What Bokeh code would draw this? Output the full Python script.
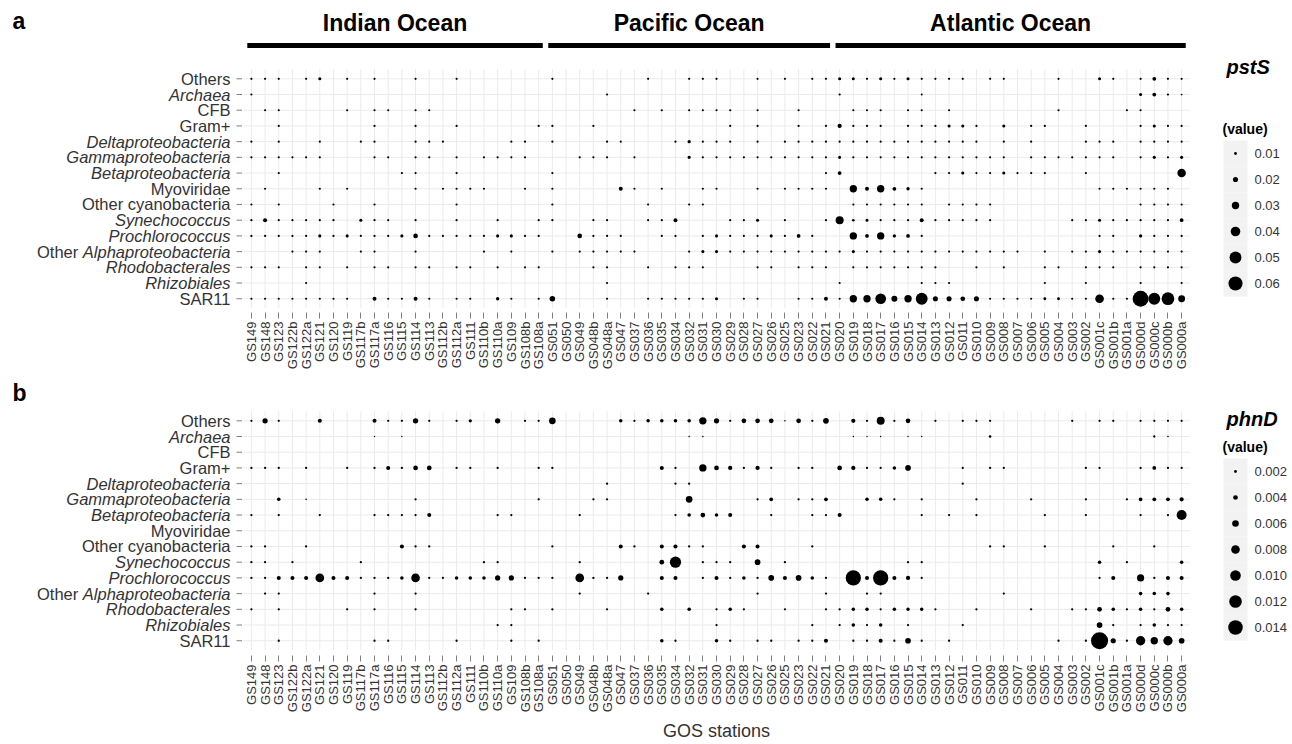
import numpy as np
from bokeh.plotting import figure
from bokeh.models import Range1d, FixedTicker, Title
from bokeh.layouts import column
from bokeh.embed import file_html
from bokeh.resources import INLINE
from bokeh.core.properties import value

# ---------------- data ----------------
stations = ["GS149", "GS148", "GS123", "GS122b", "GS122a", "GS121", "GS120", "GS119", "GS117b", "GS117a",
            "GS116", "GS115", "GS114", "GS113", "GS112b", "GS112a", "GS111", "GS110b", "GS110a", "GS109",
            "GS108b", "GS108a", "GS051", "GS050", "GS049", "GS048b", "GS048a", "GS047", "GS037", "GS036",
            "GS035", "GS034", "GS032", "GS031", "GS030", "GS029", "GS028", "GS027", "GS026", "GS025",
            "GS023", "GS022", "GS021", "GS020", "GS019", "GS018", "GS017", "GS016", "GS015", "GS014",
            "GS013", "GS012", "GS011", "GS010", "GS009", "GS008", "GS007", "GS006", "GS005", "GS004",
            "GS003", "GS002", "GS001c", "GS001b", "GS001a", "GS000d", "GS000c", "GS000b", "GS000a"]
ocean_names = ["Indian Ocean", "Pacific Ocean", "Atlantic Ocean"]
ocean_first = ["GS149", "GS051", "GS020"]
ocean_last = ["GS108a", "GS021", "GS000a"]

taxa = ["Others", "Archaea", "CFB", "Gram+", "Deltaproteobacteria", "Gammaproteobacteria",
        "Betaproteobacteria", "Myoviridae", "Other cyanobacteria", "Synechococcus", "Prochlorococcus",
        "Other Alphaproteobacteria", "Rhodobacterales", "Rhizobiales", "SAR11"]
italic_taxa = ["Archaea", "Deltaproteobacteria", "Gammaproteobacteria", "Betaproteobacteria",
               "Synechococcus", "Prochlorococcus", "Rhodobacterales", "Rhizobiales"]

# panel a : pstS
pstS_Others = [.007,.007,.007,0,.007,.011,0,.007,0,.007, 0,0,.007,0,0,.007,0,0,0,0, 0,0,.007,0,0,0,0,0,0,.007,
               0,0,.007,.007,.007,0,0,.007,0,.007, 0,.007,.007,.011,.011,.007,.011,.007,.011,.007,
               .007,.007,.007,0,.007,.007,0,0,0,.007, 0,0,.011,.007,0,.007,.014,.007,.007]
pstS_Archaea = [.007,0,0,0,0,0,0,0,0,0, 0,0,0,0,0,0,0,0,0,0, 0,0,0,0,0,0,.007,0,0,0,
                0,0,0,0,0,0,0,0,0,0, 0,0,0,.007,0,0,0,0,0,.006,
                0,0,0,0,0,0,0,0,0,0, 0,0,0,0,0,.011,.014,.007,.005]
pstS_CFB = [0,.007,.007,0,0,0,0,.007,0,.007, .007,0,.007,.007,0,0,0,0,0,0, 0,0,0,0,0,0,0,0,.007,0,
            .007,0,.007,.007,.007,.007,0,.007,0,0, .007,0,0,0,.007,.007,.007,0,.007,.007,
            0,.007,0,0,0,0,0,0,0,.007, 0,0,0,0,.007,.007,0,0,0]
pstS_Gram = [0,0,.007,0,0,0,0,0,0,.007, 0,0,.007,0,0,.007,0,0,0,0, 0,.007,.007,0,0,.007,0,0,0,0,
             0,0,0,0,0,.007,0,.007,0,0, .007,0,.007,.016,.007,.007,.007,0,.007,.007,
             .007,.011,.011,.007,0,.011,0,.007,.007,0, 0,.007,0,0,0,.007,.011,.007,.007]
pstS_Delta = [.007,0,.007,0,0,.007,0,0,.007,.007, 0,0,.007,.007,.007,0,0,0,0,.007, .007,0,.007,0,0,0,.007,.007,0,0,
              0,.007,.012,.007,.007,.007,0,.007,0,.007, .007,.007,.007,.007,.007,.007,.007,.007,.007,.007,
              .007,.007,.007,.007,0,.007,0,.007,0,0, 0,.007,.007,.007,0,.007,.007,.007,.007]
pstS_Gamma = [.007,.007,.007,.007,.007,.007,0,0,0,.007, .007,0,.007,.007,0,.007,0,.007,.007,.007, .007,0,0,0,.007,.007,.007,0,.007,0,
              0,0,.012,.007,.007,.007,.007,.007,.007,.007, .007,.007,.007,.011,.007,.007,.007,.007,.007,.007,
              .007,.007,.007,.007,.007,.007,0,.007,.007,.007, .007,.007,.007,.007,0,.007,.011,.007,.011]
pstS_Beta = [0,0,.007,0,0,0,0,0,0,0, 0,.007,.007,0,0,.007,0,0,0,0, 0,0,.007,0,0,0,0,0,0,0,
             0,0,0,0,0,0,0,0,0,0, 0,0,.007,.014,0,0,0,0,0,0,
             .007,.007,.011,.007,.007,.011,.007,.007,.007,0, 0,.007,0,0,0,0,0,0,.035]
pstS_Myo = [0,.007,0,0,0,.007,0,.007,0,0, 0,0,.007,0,.007,.007,.007,.007,0,0, .007,0,.007,0,0,0,0,.015,.007,0,
            .007,0,0,.007,.007,0,0,.007,0,.007, .007,.007,.007,0,.030,.015,.030,.014,.012,.007,
            0,0,0,0,0,0,0,0,0,0, 0,0,.007,.007,.007,.007,.007,.007,0]
pstS_OtherCyano = [.007,0,.007,0,0,0,.007,0,0,.007, 0,0,0,0,0,.007,0,0,0,0, 0,0,.007,0,0,0,0,0,0,.007,
                   0,0,.007,.007,0,0,0,0,0,0, 0,0,0,0,.007,.007,.007,.007,.007,.007,
                   0,.007,.007,.007,.007,0,0,0,0,0, 0,0,0,0,0,.007,.007,.007,.007]
pstS_Syn = [.007,.015,.007,.007,.007,.007,.007,0,.011,.007, .007,0,.007,0,0,.007,0,0,.007,0, 0,.007,.007,0,0,.007,.007,0,0,.007,
            .007,.015,0,0,0,.007,.007,.011,0,.007, 0,0,.007,.033,.009,.011,.007,.007,.007,.015,
            .007,.007,.007,.007,.007,0,0,0,0,0, .007,.007,.011,.007,.007,.007,.007,.007,.014]
pstS_Proch = [.007,.007,.007,.007,.007,.011,.007,.011,.007,.007, .007,.011,.018,.007,.007,.007,.007,.007,.011,.011,
              .007,.007,0,0,.018,.007,.007,.007,0,0, .007,.007,0,.007,.011,.007,.007,.007,.011,.007,
              .014,.007,0,0,.030,.014,.030,.012,.014,.007, 0,0,0,0,0,0,0,0,0,0, 0,0,.007,.007,0,.012,.007,.007,.007]
pstS_OtherAlpha = [0,0,0,.007,.007,.007,0,0,.007,.007, 0,0,.007,0,0,0,0,.007,0,.007, 0,0,.007,0,.007,.007,.007,.007,.007,0,
                   0,0,.007,.011,.011,.007,.007,.007,.007,.007, .007,.007,.007,.007,.011,.007,.007,.007,.007,.007,
                   .007,.007,.007,.007,.007,.007,.007,0,.007,0, .007,.007,.011,.007,.007,.007,.007,.007,.007]
pstS_Rhodo = [.007,.007,.007,0,.007,.007,0,.007,0,.007, .007,0,.007,.007,0,.007,.007,0,.007,0, .007,.007,0,0,0,.007,.007,0,0,.007,
              0,.007,.007,.007,0,0,0,.007,.007,0, .007,.007,.007,0,.007,.007,.007,.007,.007,.007,
              .007,0,0,.007,0,.007,0,0,.007,.007, 0,.007,.007,.007,0,.007,.007,.007,.007]
pstS_Rhizo = [0,0,0,0,.007,0,0,0,0,0, 0,0,0,0,0,0,0,0,0,0, 0,0,0,0,0,0,.007,0,0,0,
              0,0,0,0,0,0,0,0,0,0, 0,0,0,.007,0,0,0,0,0,.007,
              .007,.007,0,0,0,0,0,0,.007,0, 0,.007,0,0,0,.007,0,0,.007]
pstS_SAR11 = [.007,.007,.007,.007,.007,.007,.007,.007,0,.015, .007,.007,.015,.007,0,.007,.007,0,.012,.007,
              0,.007,.022,0,0,0,.007,0,0,.007, .007,.007,.007,.007,.011,0,.007,.007,0,0,
              .007,.007,.015,.007,.030,.030,.045,.024,.030,.050, .020,.020,.018,.020,.007,.007,.007,.007,.010,.010,
              .007,.007,.036,.007,.007,.068,.050,.054,.028]

# panel b : phnD
phnD_Others = [.0015,.0046,.0015,0,0,.0033,0,0,0,.0033, .0015,.0015,.0046,.0015,0,.0015,.0025,0,.0046,0,
               .0015,.0015,.006,0,0,0,0,.0028,.0015,.0028, .0028,.0028,.0028,.0067,.0045,.0015,.004,.004,.004,.0008,
               .004,.0015,.005,0,.0035,.0015,.0073,.0015,.004,0, .0015,0,.0015,.0015,.0015,0,0,0,0,0,
               .0015,0,.0015,.0015,0,.0015,.0015,.0015,.0015]
phnD_Archaea = [0,0,0,0,0,0,0,0,0,.0006, 0,.0006,0,0,0,0,0,0,0,0, 0,0,0,0,0,0,0,0,0,0,
                0,0,.0008,.0008,0,0,0,0,0,0, 0,0,0,0,.0006,.0006,.0006,0,.0006,.0006,
                0,0,0,0,.0018,0,0,0,0,0, 0,0,0,0,0,0,.0015,.0008,0]
phnD_CFB = [0,0,0,0,0,0,0,0,0,0, 0,0,0,0,0,0,0,0,0,0, 0,0,0,0,0,0,0,0,0,0,
            0,0,0,0,0,0,0,0,0,0, 0,0,0,0,0,0,0,0,0,0, 0,0,0,0,0,0,0,0,0,0, 0,0,0,0,0,0,0,0,0]
phnD_Gram = [.0015,.0015,.0015,0,.0015,0,0,.0015,0,.0015, .0033,.0015,.004,.004,0,.0015,.0015,0,.0015,0,
             0,.0015,.0015,0,0,0,0,0,0,0, .0033,.0015,0,.0067,.004,.0035,.0015,.0035,.0015,0,
             .0015,.0015,0,.004,.0035,.0015,.0015,.0028,.005,0, 0,0,.0015,0,.0015,.0015,0,0,0,0,
             0,.0015,.0015,0,0,.0015,.003,.0015,.0015]
phnD_Delta = [0,0,0,0,0,0,0,0,0,0, 0,0,0,0,0,0,0,0,0,0, 0,0,0,0,0,0,.0015,0,0,0,
              0,.0015,.0015,0,0,0,0,0,0,0, 0,0,0,0,0,0,0,0,0,0, 0,0,.0015,0,0,0,0,0,0,0, 0,0,0,0,0,0,0,0,0]
phnD_Gamma = [0,0,.0028,0,.0008,0,0,0,0,0, 0,0,.0015,0,0,0,0,0,0,0, 0,.0015,0,0,0,.0015,.0015,0,0,0,
              0,0,.006,0,0,0,0,.0015,.003,0, .0015,.0015,.003,0,0,.0028,.0028,.0015,0,.0015,
              0,0,0,.0015,0,0,0,.0015,0,0, 0,.0015,0,0,.0015,.003,.003,.003,.0035]
phnD_Beta = [.0015,0,.0015,0,0,.0015,0,0,0,.0015, .0015,.0015,.0015,.0033,0,0,0,0,.0015,.0015,
             0,0,0,0,.0015,0,0,0,0,0, 0,.0015,.0028,.004,.0028,.0033,0,0,.0015,0,
             0,.0015,.0015,.0033,0,0,0,0,0,.0015, 0,.0015,0,.0015,0,0,0,0,.0015,0,
             0,.0015,0,0,0,.0015,0,.0015,.0094]
phnD_Myo = [0,0,0,0,0,0,0,0,0,0, 0,0,0,0,0,0,0,0,0,0, 0,0,0,0,0,0,0,0,0,0,
            0,0,0,0,0,0,0,0,0,0, 0,0,0,0,0,0,0,0,0,0, 0,0,0,0,0,0,0,0,0,0, 0,0,0,0,0,0,0,0,0]
phnD_OtherCyano = [.0015,.0015,0,0,.0015,0,0,0,0,0, 0,.0033,.0015,.0015,0,0,0,0,0,0, 0,0,.0015,0,0,0,0,.0033,.0015,0,
                   .0033,.0033,.0015,.0015,0,0,.0033,.0033,0,0, 0,.0015,0,0,0,0,0,0,0,0,
                   0,0,0,0,.0015,.0015,0,0,.0015,0, 0,0,0,.0015,0,0,.0015,0,0]
phnD_Syn = [.0015,.0015,0,.0015,0,0,0,0,.0015,0, 0,0,0,0,0,0,0,.0015,.0015,0, 0,0,0,0,.0015,0,0,0,0,0,
            .004,.0107,0,.0015,.0015,.0015,0,.005,0,.0015, 0,0,0,0,0,0,0,0,.0015,.0015,
            0,0,0,0,0,0,0,0,0,0, 0,0,.0028,0,.0015,0,0,0,.0028]
phnD_Proch = [.0015,.0015,.0033,.0033,.0033,.008,.0033,.0033,.0015,.0015, .0015,.0028,.008,.0015,.0015,.0028,.0028,.0028,.0045,.0045,
              .0015,.0015,.0015,0,.008,.0015,.0015,.0045,0,0, .0033,.0033,0,.0015,.0033,.0015,.0028,.0015,.005,.0033,
              .005,.0028,.0015,0,.0148,.0033,.0148,.0033,.0035,.0015, 0,0,0,0,0,0,0,0,0,0,
              0,0,.0015,.0033,0,.0065,.0015,.0033,.0033]
phnD_OtherAlpha = [0,.0015,.0015,0,0,0,0,0,0,.0015, 0,0,.0015,0,0,0,0,0,0,0, 0,0,0,0,.0015,0,0,0,0,.0015,
                   0,0,0,0,0,0,0,.0015,0,0, 0,0,.0015,0,0,.0015,.0015,0,0,0,
                   0,0,0,0,0,.0015,0,0,0,0, 0,0,0,0,0,.0028,.0028,.0028,0]
phnD_Rhodo = [.0015,0,.0015,0,0,0,0,.0015,0,.0015, 0,0,.0015,0,0,0,0,0,0,.0015, .0015,0,.0015,0,0,0,.0015,0,0,0,
              .0028,0,.0028,0,.0015,.0028,.0015,0,0,.0015, 0,0,.0015,.0015,.0028,.0028,.0015,.0028,.0028,.0028,
              .0015,0,0,.0015,0,0,0,.0015,0,0, .0015,.0015,.004,.0028,.0015,.0028,.0015,.004,.0028]
phnD_Rhizo = [0,0,0,0,0,0,0,0,0,0, 0,0,0,0,0,0,0,0,.0015,.0015, 0,0,0,0,0,0,0,0,0,0,
              0,0,0,0,.0015,0,0,0,0,0, 0,.0015,0,.0015,.0028,.0015,.0028,0,.0015,0,
              0,0,.0015,0,0,0,0,0,0,0, 0,0,.005,.0015,0,.0015,.0028,.0015,.0015]
phnD_SAR11 = [0,0,.0015,0,0,0,0,0,0,.0015, .0015,0,0,0,0,.0015,0,0,0,.0015, 0,.0015,0,0,0,0,0,0,0,0,
              .0028,.0015,0,0,.0028,.0015,0,.0015,.0015,0, .0015,.0015,.0033,0,.0015,.0015,.0033,.0015,.005,.0015,
              0,.0015,0,0,0,0,0,0,0,.0015, 0,.0015,.0166,.0045,.0015,.0087,.0067,.0087,.005]

pstS_rows = [pstS_Others, pstS_Archaea, pstS_CFB, pstS_Gram, pstS_Delta, pstS_Gamma, pstS_Beta, pstS_Myo,
             pstS_OtherCyano, pstS_Syn, pstS_Proch, pstS_OtherAlpha, pstS_Rhodo, pstS_Rhizo, pstS_SAR11]
phnD_rows = [phnD_Others, phnD_Archaea, phnD_CFB, phnD_Gram, phnD_Delta, phnD_Gamma, phnD_Beta, phnD_Myo,
             phnD_OtherCyano, phnD_Syn, phnD_Proch, phnD_OtherAlpha, phnD_Rhodo, phnD_Rhizo, phnD_SAR11]

legend_a_values = [0.01, 0.02, 0.03, 0.04, 0.05, 0.06]
legend_a_labels = ["0.01", "0.02", "0.03", "0.04", "0.05", "0.06"]
legend_b_values = [0.002, 0.004, 0.006, 0.008, 0.010, 0.012, 0.014]
legend_b_labels = ["0.002", "0.004", "0.006", "0.008", "0.010", "0.012", "0.014"]

# ---------------- layout / style ----------------
FONT = "Liberation Sans"
W = 1290          # frame width (px)
XS = 13.68        # px per station
X0 = 250.9        # page px of first station
YS = 15.71        # px per taxon row
FS_Y = 16.5       # y label font size
ALPHA_W = 8.949   # em width of italic "Alphaproteobacteria"
SPACE_W = 0.278


def xd(rx):
    return (rx - X0) / XS


def size_a(v):
    return 0.6 + 225.0 * v


def size_b(v):
    return 0.8 + 980.0 * v


def txt(p, xs, ys, texts, size, align="left", style="normal", color="#333333"):
    p.text(x=xs, y=ys, text=texts, text_font=value(FONT), text_font_size=value(size),
           text_font_style=value(style), text_align=align, text_baseline="middle", text_color=color)


def panel(rows, size_fn, fh, row0_ref, top_ref, bottom, letter, gene, leg_vals, leg_labels,
          leg_title_ref, gene_ref, letter_ref, headers):
    row0 = row0_ref - top_ref
    p = figure(frame_width=W, frame_height=fh, min_border_left=0, min_border_right=0,
               min_border_top=0, min_border_bottom=bottom, output_backend="svg",
               toolbar_location=None, y_axis_location=None,
               x_range=Range1d(-X0 / XS, (W - X0) / XS),
               y_range=Range1d((fh - row0) / YS, -row0 / YS))
    p.grid.visible = False
    p.outline_line_color = None
    p.background_fill_color = "white"
    p.border_fill_color = "white"

    def yd(ry):
        return (ry - row0_ref) / YS

    n = len(stations)
    m = len(taxa)
    # grid
    p.segment(x0=list(range(n)), y0=[-0.6] * n, x1=list(range(n)), y1=[m - 0.4] * n,
              line_color="#ebebeb", line_width=1)
    p.segment(x0=[-0.6] * m, y0=list(range(m)), x1=[n - 0.4] * m, y1=list(range(m)),
              line_color="#ebebeb", line_width=1)
    # y ticks
    p.segment(x0=[xd(236)] * m, y0=list(range(m)), x1=[xd(241.5)] * m, y1=list(range(m)),
              line_color="#7f7f7f", line_width=1)
    # dots
    xs, ys, ss = [], [], []
    for r, vals in enumerate(rows):
        for c, v in enumerate(vals):
            if v > 0:
                xs.append(c)
                ys.append(r)
                ss.append(size_fn(v))
    p.scatter(x=xs, y=ys, size=ss, marker="circle", fill_color="black", line_color=None)

    # y labels
    lx = xd(230)
    norm_t, norm_y, ital_t, ital_y = [], [], [], []
    for r, t in enumerate(taxa):
        if t == "Other Alphaproteobacteria":
            ital_t.append("Alphaproteobacteria")
            ital_y.append(r)
        elif t in italic_taxa:
            ital_t.append(t)
            ital_y.append(r)
        else:
            norm_t.append(t)
            norm_y.append(r)
    fs = "%.1fpx" % FS_Y
    txt(p, [lx] * len(norm_t), norm_y, norm_t, fs, align="right")
    txt(p, [lx] * len(ital_t), ital_y, ital_t, fs, align="right", style="italic")
    r_alpha = taxa.index("Other Alphaproteobacteria")
    txt(p, [lx - (ALPHA_W + SPACE_W) * FS_Y / XS], [r_alpha], ["Other"], fs, align="right")

    # x axis
    ax = p.xaxis[0]
    ax.ticker = FixedTicker(ticks=list(range(n)))
    ax.major_label_overrides = {i: s for i, s in enumerate(stations)}
    ax.major_label_orientation = np.pi / 2
    ax.axis_line_color = None
    ax.minor_tick_line_color = None
    ax.major_tick_line_color = "#7f7f7f"
    ax.major_tick_in = 0
    ax.major_tick_out = 6
    ax.major_label_standoff = 3
    ax.major_label_text_font = FONT
    ax.major_label_text_font_size = "13px"
    ax.major_label_text_color = "#333333"

    # panel letter
    txt(p, [xd(12)], [yd(letter_ref)], [letter], "23px", style="bold", color="black")

    # legend
    kx = xd(1235)
    ky = [yd(leg_title_ref + 25 + 26 * k) for k in range(len(leg_vals))]
    p.rect(x=[kx] * len(ky), y=ky, width=24 / XS, height=26 / YS, fill_color="#f2f2f2", line_color=None)
    p.scatter(x=[kx] * len(ky), y=ky, size=[size_fn(v) for v in leg_vals], marker="circle",
              fill_color="black", line_color=None)
    txt(p, [xd(1254)] * len(ky), ky, leg_labels, "13px", color="#333333")
    txt(p, [xd(1222)], [yd(leg_title_ref)], ["(value)"], "14px", style="bold", color="black")
    txt(p, [xd(1226)], [yd(gene_ref)], [gene], "20px", style="bold italic", color="black")

    if headers:
        starts = [stations.index(s) for s in ocean_first]
        ends = [stations.index(s) for s in ocean_last]
        p.segment(x0=[s - 0.3 for s in starts], y0=[yd(45)] * 3, x1=[e + 0.3 for e in ends],
                  y1=[yd(45)] * 3, line_color="black", line_width=5, line_cap="butt")
        txt(p, [(s + e) / 2 for s, e in zip(starts, ends)], [yd(22)] * 3, ocean_names, "23px",
            align="center", style="bold", color="black")
    return p


pa = panel(pstS_rows, size_a, 312, 78.3, 0, 62, "a", "pstS", legend_a_values, legend_a_labels,
           128, 66, 20, True)
pb = panel(phnD_rows, size_b, 281, 420.3, 374, 88, "b", "phnD", legend_b_values, legend_b_labels,
           446, 418, 392, False)

title_fs = 18
title_w = 5.947 * title_fs
pb.add_layout(Title(text="GOS stations", align="left", offset=X0 + XS * 34 - title_w / 2,
                    text_font=FONT, text_font_size="%dpx" % title_fs, text_font_style="normal",
                    text_color="#333333", standoff=6), "below")

layout = column(pa, pb)
open("out.html", "w").write(file_html(layout, INLINE))
